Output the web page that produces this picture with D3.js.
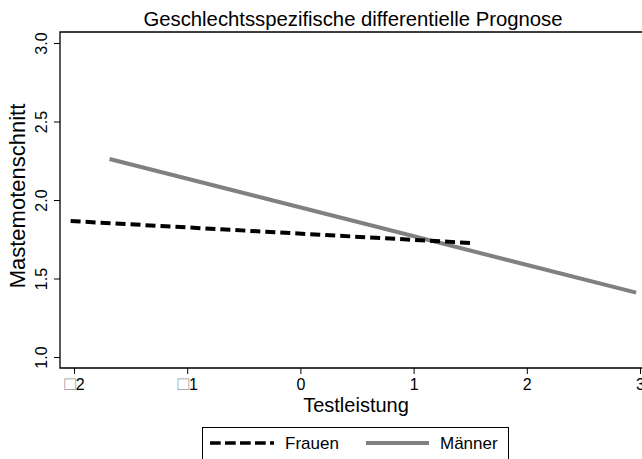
<!DOCTYPE html>
<html>
<head>
<meta charset="utf-8">
<script src="https://cdn.jsdelivr.net/npm/d3@7"></script>
<style>
  body { margin: 0; background: #fff; }
  svg { display: block; font-family: Arial, "Liberation Sans", sans-serif; }
</style>
</head>
<body>
<svg id="chart" width="642" height="459"></svg>
<script>
// DATA
const seriesNames = ["Frauen", "Männer"];
const frauenX = [-2.03, 1.51];
const frauenY = [1.866, 1.726];
const maennerX = [-1.686, 2.966];
const maennerY = [2.261, 1.41];
const xTicks = [-2, -1, 0, 1, 2, 3];
const yTicks = [1.0, 1.5, 2.0, 2.5, 3.0];

const svg = d3.select('#chart');
const frame = { left: 60, top: 32, right: 642, bottom: 368 };

// scales
const x = d3.scaleLinear().domain([-2, 3]).range([74, 640]);
const y = d3.scaleLinear().domain([1, 3]).range([357, 43]);

// frame lines (left, top, bottom)
svg.append('path')
    .attr('d', `M${frame.right},${frame.top}H${frame.left}V${frame.bottom}H${frame.right}`)
    .attr('fill', 'none')
    .attr('stroke', '#000')
    .attr('stroke-width', 1.3);

// y axis
const yAxis = svg.append('g')
    .attr('transform', `translate(${frame.left},0)`)
    .call(d3.axisLeft(y).tickValues(yTicks).tickSize(6).tickFormat(''));
yAxis.select('.domain').remove();
yAxis.selectAll('.tick line').attr('stroke-width', 1);
yAxis.selectAll('.tick').append('text')
    .attr('transform', 'translate(-13,0) rotate(-90)')
    .attr('text-anchor', 'middle')
    .attr('font-size', 16)
    .attr('fill', '#000')
    .text(d3.format('.1f'));

// x axis
const xAxis = svg.append('g')
    .attr('transform', `translate(0,${frame.bottom})`)
    .call(d3.axisBottom(x).tickValues(xTicks).tickSize(6).tickFormat(''));
xAxis.select('.domain').remove();
xAxis.selectAll('.tick line').attr('stroke-width', 1);
xAxis.selectAll('.tick').each(function(d) {
    const t = d3.select(this).append('text')
        .attr('y', 22)
        .attr('text-anchor', 'middle')
        .attr('font-size', 16)
        .attr('fill', '#000');
    if (d < 0) {
        // minus sign shown as a missing-glyph box in the reference
        t.append('tspan').attr('fill', '#999').attr('font-size', 19).text('\u25A1');
        t.append('tspan').text(Math.abs(d));
    } else {
        t.text(d);
    }
});

// lines
const line = d3.line().x(d => x(d[0])).y(d => y(d[1]));
svg.append('path')
    .datum(maennerX.map((v, i) => [v, maennerY[i]]))
    .attr('d', line)
    .attr('fill', 'none')
    .attr('stroke', '#808080')
    .attr('stroke-width', 4);
svg.append('path')
    .datum(frauenX.map((v, i) => [v, frauenY[i]]))
    .attr('d', line)
    .attr('fill', 'none')
    .attr('stroke', '#000')
    .attr('stroke-width', 4)
    .attr('stroke-dasharray', '10,5');

// titles
svg.append('text')
    .attr('x', 353).attr('y', 26)
    .attr('text-anchor', 'middle')
    .attr('font-size', 20.3)
    .text('Geschlechtsspezifische differentielle Prognose');
svg.append('text')
    .attr('x', 356).attr('y', 412)
    .attr('text-anchor', 'middle')
    .attr('font-size', 20)
    .text('Testleistung');
svg.append('text')
    .attr('transform', `translate(25,196) rotate(-90)`)
    .attr('text-anchor', 'middle')
    .attr('font-size', 22)
    .text('Mastemotenschnitt');

// legend
const legend = svg.append('g');
legend.append('rect')
    .attr('x', 202.5).attr('y', 427.5)
    .attr('width', 306).attr('height', 40)
    .attr('fill', '#fff')
    .attr('stroke', '#000')
    .attr('stroke-width', 1);
const legendItems = [
    { name: seriesNames[0], x1: 210, x2: 274, color: '#000', width: 3.7, dash: '10.7,4.3' },
    { name: seriesNames[1], x1: 366, x2: 429, color: '#808080', width: 4, dash: null }
];
legendItems.forEach(it => {
    legend.append('line')
        .attr('x1', it.x1).attr('x2', it.x2)
        .attr('y1', 443).attr('y2', 443)
        .attr('stroke', it.color)
        .attr('stroke-width', it.width)
        .attr('stroke-dasharray', it.dash);
    legend.append('text')
        .attr('x', it.x2 + 11).attr('y', 449)
        .attr('font-size', 17)
        .text(it.name);
});
</script>
</body>
</html>
